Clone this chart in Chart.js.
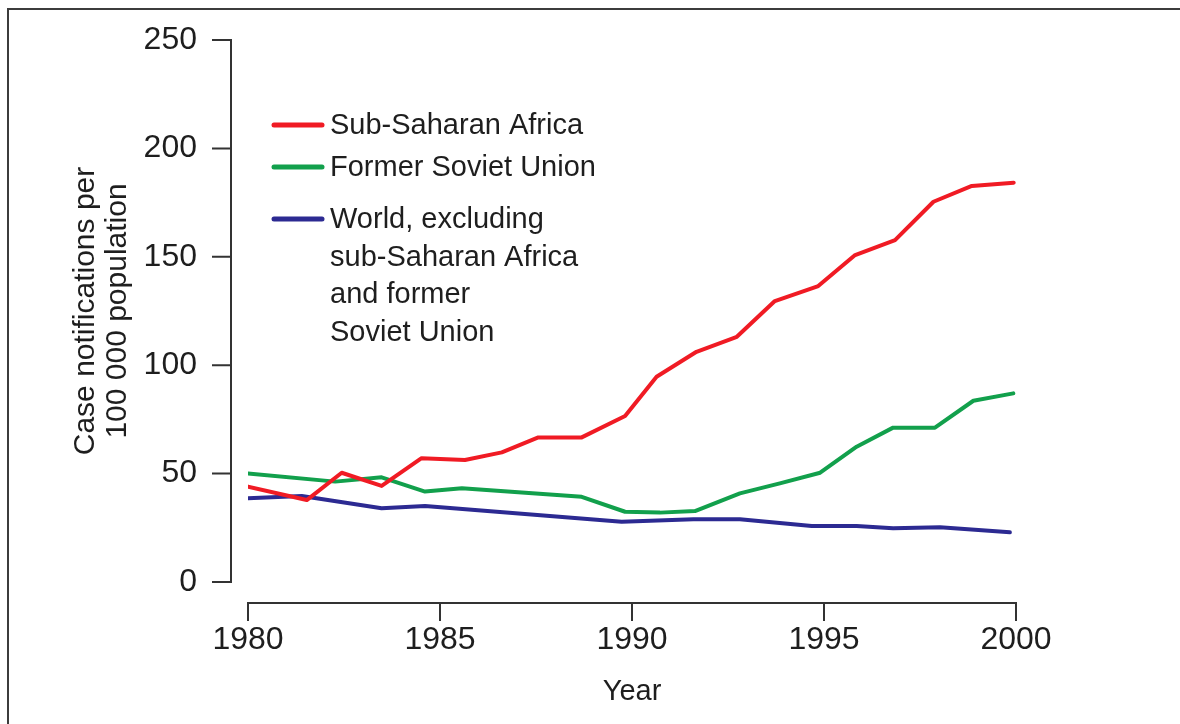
<!DOCTYPE html>
<html>
<head>
<meta charset="utf-8">
<script src="https://cdn.jsdelivr.net/npm/chart.js@4.4.1/dist/chart.umd.min.js"></script>
<style>
  html, body { margin: 0; padding: 0; background: #fff; overflow: hidden; }
  #wrap { position: absolute; left: 0; top: 0; width: 1180px; height: 724px; }
  #frame { position: absolute; left: 7px; top: 8px; width: 1200px; height: 800px;
           border-left: 2px solid #3c3c3c; border-top: 2px solid #3c3c3c; }
</style>
</head>
<body>
<div id="wrap">
  <canvas id="myChart" width="1180" height="724"></canvas>
  <div id="frame"></div>
</div>
<script>
// values (x = position in years, y = notifications per 100 000)
const redYears = [1980, 1981.53, 1982.44, 1983.48, 1984.52, 1985.65, 1986.61, 1987.56, 1988.69, 1989.82,
  1990.64, 1991.68, 1992.73, 1993.72, 1994.85, 1995.81, 1996.85, 1997.85, 1998.85, 1999.94];
const redValues = [44.0, 37.8, 50.4, 44.3, 57.1, 56.3, 59.8, 66.7, 66.7, 76.6,
  94.7, 106.2, 113.1, 129.6, 136.5, 150.8, 157.7, 175.4, 182.7, 184.2];

const greenYears = [1980, 1982.27, 1983.48, 1984.61, 1985.57, 1988.69, 1989.82, 1990.73, 1991.64,
  1992.81, 1993.85, 1994.9, 1995.85, 1996.8, 1997.89, 1998.89, 1999.93];
const greenValues = [50.1, 46.3, 48.3, 41.7, 43.2, 39.3, 32.4, 32.0, 32.7,
  40.9, 45.5, 50.4, 62.4, 71.2, 71.2, 83.6, 87.0];

const blueYears = [1980, 1981.4, 1983.48, 1984.61, 1989.73, 1991.6, 1992.81, 1994.68, 1995.85,
  1996.8, 1998.02, 1999.84];
const blueValues = [38.6, 39.7, 34.0, 35.1, 27.8, 28.9, 28.9, 25.8, 25.8, 24.8, 25.2, 22.9];

const seriesLabels = [
  "Sub-Saharan Africa",
  "Former Soviet Union",
  "World, excluding\nsub-Saharan Africa\nand former\nSoviet Union",
];
const seriesColors = ["#f01b24", "#12a04c", "#2c2a92"];

const yTitle = ["Case notifications per", "100 000 population"];
const xTitle = "Year";

const FONT = "'Liberation Sans', Arial, sans-serif";
const INK = "#1e1e1e";

function toPoints(xs, ys) {
  return xs.map((x, i) => ({ x: x, y: ys[i] }));
}

// axis lines sit a bit away from the plot, like the original
const offsetAxes = {
  id: "offsetAxes",
  afterDraw(chart) {
    const ctx = chart.ctx;
    const xs = chart.scales.x;
    const ys = chart.scales.y;
    const area = chart.chartArea;
    const axisX = area.left - 17;
    const axisY = area.bottom + 21;
    ctx.save();
    ctx.strokeStyle = "#333";
    ctx.lineWidth = 2;
    ctx.beginPath();
    ctx.moveTo(axisX, ys.getPixelForValue(250));
    ctx.lineTo(axisX, ys.getPixelForValue(0));
    ys.ticks.forEach((t) => {
      const py = ys.getPixelForValue(t.value);
      ctx.moveTo(axisX - 19, py);
      ctx.lineTo(axisX + 1, py);
    });
    ctx.moveTo(xs.getPixelForValue(1980), axisY);
    ctx.lineTo(xs.getPixelForValue(2000), axisY);
    xs.ticks.forEach((t) => {
      const px = xs.getPixelForValue(t.value);
      ctx.moveTo(px, axisY - 1);
      ctx.lineTo(px, axisY + 18);
    });
    ctx.stroke();
    ctx.restore();
  },
};

// legend drawn inside the plot, with a wrapped last entry
const insideLegend = {
  id: "insideLegend",
  afterDraw(chart) {
    const ctx = chart.ctx;
    const rowsY = [125, 167, 219];
    ctx.save();
    ctx.font = "29px " + FONT;
    ctx.fillStyle = INK;
    ctx.textBaseline = "middle";
    chart.data.datasets.forEach((ds, i) => {
      ctx.strokeStyle = ds.borderColor;
      ctx.lineWidth = 5;
      ctx.lineCap = "round";
      ctx.beginPath();
      ctx.moveTo(274, rowsY[i]);
      ctx.lineTo(322, rowsY[i]);
      ctx.stroke();
      ds.label.split("\n").forEach((line, j) => {
        ctx.fillText(line, 330, rowsY[i] + 1 + j * 37.5);
      });
    });
    ctx.restore();
  },
};

const ctx = document.getElementById("myChart").getContext("2d");
new Chart(ctx, {
  type: "line",
  data: {
    datasets: [
      { label: seriesLabels[0], data: toPoints(redYears, redValues), borderColor: seriesColors[0] },
      { label: seriesLabels[1], data: toPoints(greenYears, greenValues), borderColor: seriesColors[1] },
      { label: seriesLabels[2], data: toPoints(blueYears, blueValues), borderColor: seriesColors[2] },
    ],
  },
  options: {
    responsive: false,
    animation: false,
    layout: { padding: { left: 20, top: 40, right: 164, bottom: 0 } },
    elements: {
      point: { radius: 0 },
      line: { borderWidth: 4, tension: 0, borderJoinStyle: "round", borderCapStyle: "round" },
    },
    plugins: { legend: { display: false }, tooltip: { enabled: false } },
    scales: {
      x: {
        type: "linear",
        min: 1980,
        max: 2000,
        grid: { display: false },
        border: { display: false },
        ticks: {
          stepSize: 5,
          padding: 31,
          color: INK,
          font: { family: FONT, size: 32, lineHeight: 1.2 },
          callback: (v) => String(v),
        },
        title: {
          display: true,
          text: xTitle,
          color: INK,
          font: { family: FONT, size: 29, lineHeight: 1.1 },
          padding: { top: 0, bottom: 16 },
        },
        afterFit: (scale) => { scale.height = 142; },
      },
      y: {
        min: 0,
        max: 250,
        grid: { display: false },
        border: { display: false },
        ticks: {
          stepSize: 50,
          padding: 43,
          color: INK,
          font: { family: FONT, size: 32, lineHeight: 1.2 },
        },
        title: {
          display: true,
          text: yTitle,
          color: INK,
          font: { family: FONT, size: 30, lineHeight: 1.067 },
          padding: { top: 50, bottom: 0 },
        },
        afterFit: (scale) => {
          scale.width = 228;
          // labels still fit inside the layout padding
          scale.paddingTop = 0;
          scale.paddingBottom = 0;
        },
      },
    },
  },
  plugins: [offsetAxes, insideLegend],
});
</script>
</body>
</html>
